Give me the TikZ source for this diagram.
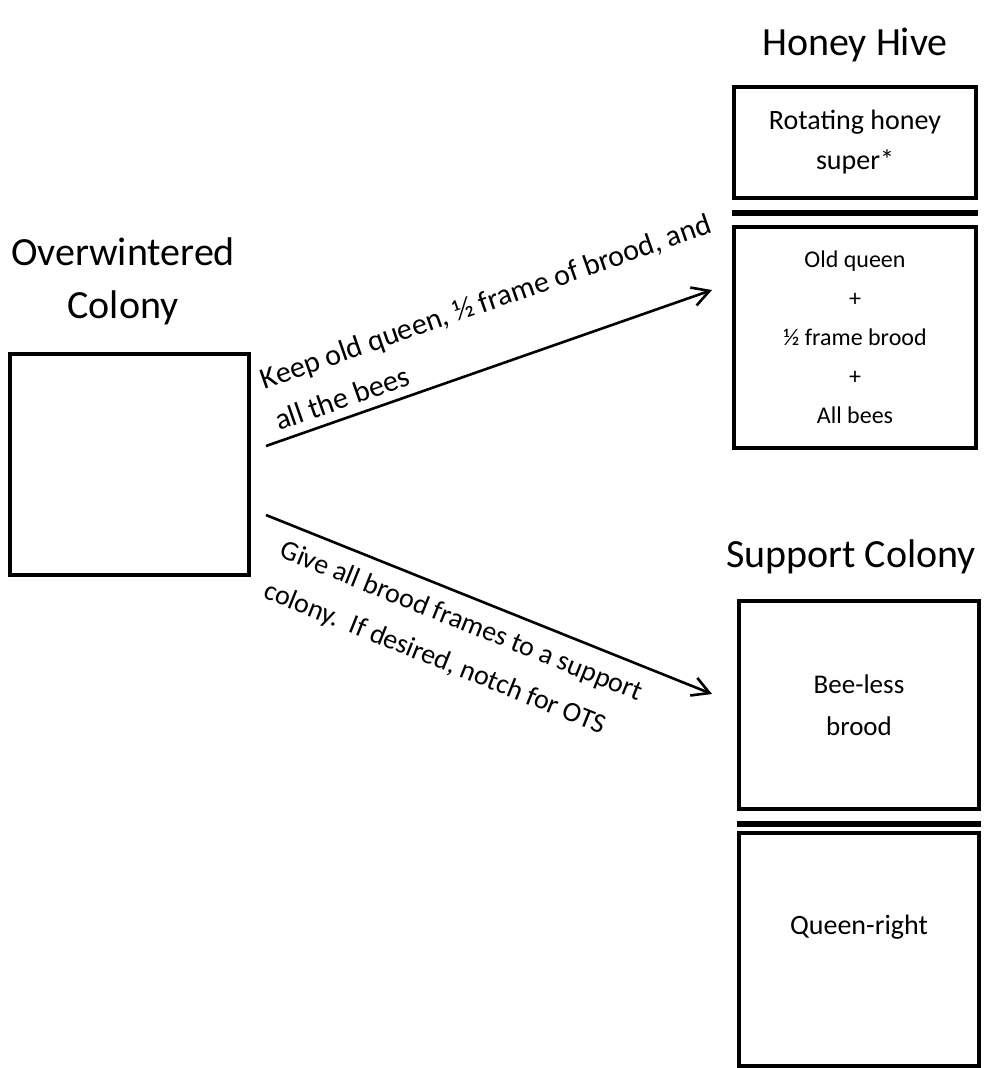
\documentclass[tikz,border=0pt]{standalone}
\usepackage{fontspec}
\setmainfont{Carlito}
\usetikzlibrary{arrows.meta,positioning}

\begin{document}
\begin{tikzpicture}[%
    x=1pt, y=-1pt,
    >={Straight Barb[length=17pt,width=19pt]},
    hive/.style={draw, line width=4pt, inner sep=0pt, align=center,
      font=\fontsize{28}{40}\selectfont},
    title/.style={inner sep=0pt, align=center, anchor=base,
      font=\fontsize{40}{53}\selectfont},
    excluder/.style={line width=6pt},
    move/.style={->, line width=2.6pt},
    note/.style={sloped, align=left, font=\fontsize{28}{44}\selectfont}
  ]
  \useasboundingbox (0,0) rectangle (983,1068);

  % overwintered colony
  \node[title] (owT) at (123,318) {Overwintered\\Colony};
  \node[hive, minimum width=239pt, minimum height=221pt] (ow) at (129.5,464.5) {};

  % honey hive
  \node[title] (hhT) at (855,55) {Honey Hive};
  \node[hive, minimum width=242pt, minimum height=111pt] (super) at (855,142.5)
    {Rotating honey\\super*};
  \node[hive, minimum width=242pt, minimum height=221pt,
    font=\fontsize{24}{39}\selectfont] (queen) at (855,337.5)
    {Old queen\\+\\½ frame brood\\+\\All bees};
  \draw[excluder] ([yshift=-13pt]super.south west) -- ([yshift=-13pt]super.south east);

  % support colony
  \node[title] (scT) at (851,567) {Support Colony};
  \node[hive, minimum width=240pt, minimum height=208pt,
    font=\fontsize{27}{42}\selectfont] (brood) at (859,705) {Bee-less\\brood};
  \node[hive, minimum width=240pt, minimum height=233pt] (qr) at (859,949.5) {};
  \node[font=\fontsize{28}{40}\selectfont] (qrT) at ([yshift=22pt]qr.center) {Queen-right};
  \draw[excluder] ([yshift=-13pt]brood.south west) -- ([yshift=-13pt]brood.south east);

  % the split
  \draw[move] ([xshift=15pt,yshift=18.5pt]ow.east) --
    node[note, above=5pt, pos=.54, font=\fontsize{30}{44}\selectfont]
      {Keep old queen, ½ frame of brood, and\\all the bees}
    ([xshift=-20pt,yshift=47.5pt]queen.west);
  \draw[move] ([xshift=15pt,yshift=-50.5pt]ow.east) --
    node[note, below=10pt, pos=.46]
      {Give all brood frames to a support\\colony.\ \ If desired, notch for OTS}
    ([xshift=-25pt,yshift=11pt]brood.west);
\end{tikzpicture}
\end{document}
